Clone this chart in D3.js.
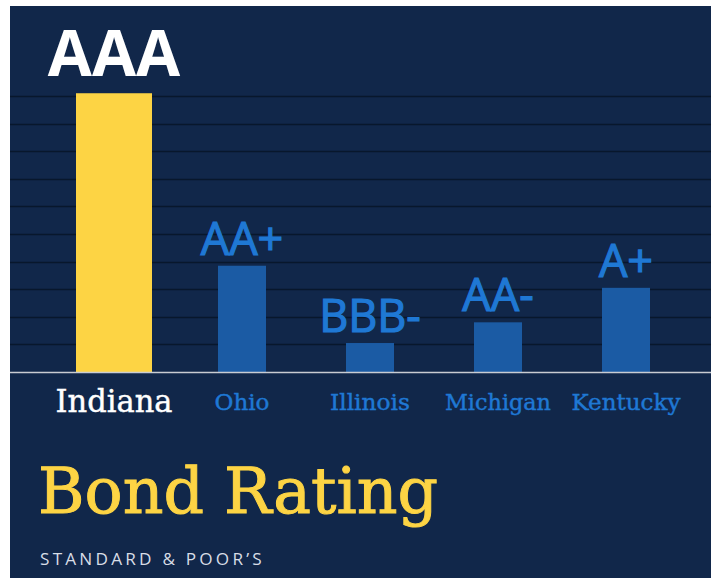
<!DOCTYPE html>
<html lang="en">
<head>
  <meta charset="UTF-8">
  <title>Bond Rating</title>
  <style>
  body { margin: 0; background: #fff; }
  #chart text.rating { font-family: "Open Sans", "Noto Sans", sans-serif; }
  #chart text.state { font-family: "DejaVu Serif", serif; font-stretch: condensed; }
  #chart .title { font-family: "DejaVu Serif", serif; fill: #fdd444; stroke: #fdd444; stroke-width: 1; }
  #chart .source { font-family: "Open Sans", sans-serif; fill: #d8dde6; letter-spacing: 3px; }
  </style>
</head>
<body>
  <div id="chart"></div>
  <script src="https://d3js.org/d3.v7.min.js"></script>
  <script>
// states, their S&P rating and bar height (as drawn, in grid units)
var states = ["Indiana", "Ohio", "Illinois", "Michigan", "Kentucky"];
var ratings = ["AAA", "AA+", "BBB-", "AA-", "A+"];
var heights = [10.1, 3.85, 1.05, 1.8, 3.05];
var gridTicks = d3.range(0, 11);

var w = 715, h = 578;
var baseY = 372, topY = 96;

var svg = d3.select("#chart").append("svg")
    .attr("width", w)
    .attr("height", h);

// navy panel
svg.append("rect")
    .attr("x", 10).attr("y", 6)
    .attr("width", 701).attr("height", h - 6)
    .attr("fill", "#11274a");

var x = d3.scaleBand()
    .domain(states)
    .range([50, 690]);

var y = d3.scaleLinear()
    .domain([0, 10])
    .range([baseY, topY]);

// grid lines
svg.append("g")
    .selectAll("line")
    .data(gridTicks.slice(1))
    .enter().append("line")
    .attr("x1", 10).attr("x2", 711)
    .attr("y1", function(d) { return Math.round(y(d)) + 0.5; })
    .attr("y2", function(d) { return Math.round(y(d)) + 0.5; })
    .attr("stroke", "#08172c")
    .attr("stroke-width", 1.5);

function barW(i) { return i === 0 ? 76 : 48; }
function cx(d) { return x(d) + x.bandwidth() / 2; }

// bars
svg.append("g")
    .selectAll("rect")
    .data(states)
    .enter().append("rect")
    .attr("x", function(d, i) { return cx(d) - barW(i) / 2; })
    .attr("y", function(d, i) { return y(heights[i]); })
    .attr("width", function(d, i) { return barW(i); })
    .attr("height", function(d, i) { return baseY - y(heights[i]); })
    .attr("fill", function(d, i) { return i === 0 ? "#fdd444" : "#1b5ba4"; });

// axis line
svg.append("line")
    .attr("x1", 10).attr("x2", 711)
    .attr("y1", baseY + 0.5).attr("y2", baseY + 0.5)
    .attr("stroke", "#c9ccd2")
    .attr("stroke-width", 1.5);

// rating labels above bars
svg.append("g")
    .selectAll("text")
    .data(states)
    .enter().append("text")
    .attr("class", "rating")
    .attr("x", function(d) { return cx(d); })
    .attr("y", function(d, i) { return y(heights[i]) - (i === 0 ? 17 : 11); })
    .attr("text-anchor", "middle")
    .attr("font-size", function(d, i) { return i === 0 ? 64 : 45; })
    .attr("font-weight", function(d, i) { return i === 0 ? 700 : 400; })
    .attr("fill", function(d, i) { return i === 0 ? "#ffffff" : "#1f78d4"; })
    .attr("stroke", function(d, i) { return i === 0 ? "none" : "#1f78d4"; })
    .attr("stroke-width", 1.2)
    .text(function(d, i) { return ratings[i]; });

// state names
var labelW = [117, 55, 80, 106, 109];
svg.append("g")
    .selectAll("text")
    .data(states)
    .enter().append("text")
    .attr("class", "state")
    .attr("x", function(d) { return cx(d); })
    .attr("y", function(d, i) { return i === 0 ? 412 : 410; })
    .attr("text-anchor", "middle")
    .attr("font-size", function(d, i) { return i === 0 ? 31 : 22; })
    .attr("fill", function(d, i) { return i === 0 ? "#ffffff" : "#1f78d4"; })
    .attr("stroke", function(d, i) { return i === 0 ? "#ffffff" : "#1f78d4"; })
    .attr("stroke-width", 0.4)
    .attr("textLength", function(d, i) { return labelW[i]; })
    .attr("lengthAdjust", "spacingAndGlyphs")
    .text(function(d) { return d; });

// title and source
svg.append("text")
    .attr("class", "title")
    .attr("x", 38).attr("y", 513)
    .attr("font-size", 63)
    .attr("textLength", 400)
    .attr("lengthAdjust", "spacingAndGlyphs")
    .text("Bond Rating");

svg.append("text")
    .attr("class", "source")
    .attr("x", 40).attr("y", 565)
    .attr("font-size", 16)
    .attr("textLength", 225)
    .attr("lengthAdjust", "spacingAndGlyphs")
    .text("STANDARD & POOR’S");
  </script>
</body>
</html>
